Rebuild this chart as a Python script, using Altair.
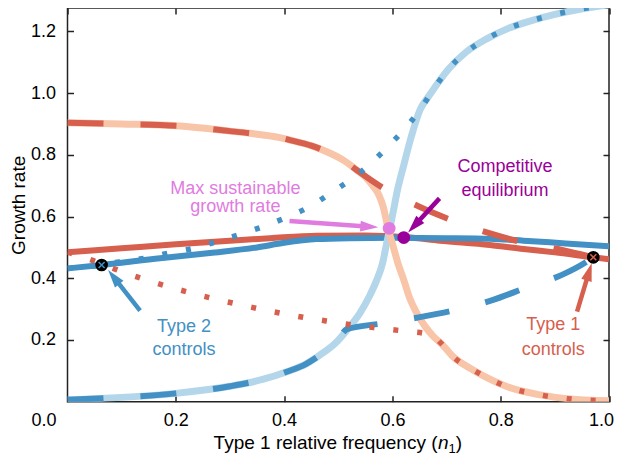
import altair as alt
import numpy as np
import pandas as pd

# ---------------- data ----------------
# light-blue sigmoid (thick, pale)
lb_x = [0, 0.1, 0.2, 0.3, 0.36, 0.405, 0.44, 0.466, 0.495, 0.516, 0.54, 0.557, 0.571, 0.582,
        0.589, 0.595, 0.602, 0.608, 0.62, 0.635, 0.651, 0.665, 0.676, 0.703, 0.736, 0.774,
        0.814, 0.857, 0.902, 0.946, 1.0]
lb_y = [0.006, 0.014, 0.027, 0.05, 0.072, 0.097, 0.122, 0.151, 0.19, 0.232, 0.287, 0.34, 0.394,
        0.45, 0.51, 0.56, 0.62, 0.675, 0.76, 0.86, 0.946, 0.985, 1.013, 1.077, 1.133, 1.176,
        1.21, 1.235, 1.256, 1.272, 1.287]

# peach decreasing sigmoid (thick, pale)
pc_x = [0, 0.1, 0.2, 0.3, 0.337, 0.392, 0.411, 0.45, 0.479, 0.51, 0.534, 0.552, 0.565, 0.575,
        0.583, 0.592, 0.602, 0.61, 0.62, 0.632, 0.645, 0.66, 0.676, 0.69, 0.712, 0.749, 0.78,
        0.811, 0.873, 0.934, 1.0]
pc_y = [0.904, 0.9, 0.894, 0.877, 0.87, 0.856, 0.848, 0.83, 0.81, 0.782, 0.751, 0.725, 0.697,
        0.67, 0.632, 0.562, 0.50, 0.45, 0.40, 0.335, 0.287, 0.245, 0.211, 0.189, 0.146, 0.103,
        0.073, 0.049, 0.022, 0.008, 0.003]

# dark blue dashed: follows light blue, then heads to the type 1 control point
bdash_x = [0, 0.1, 0.2, 0.3, 0.36, 0.405, 0.44, 0.466, 0.495, 0.516, 0.583, 0.651, 0.716,
           0.786, 0.849, 0.913, 0.959, 0.971]
bdash_y = [0.006, 0.014, 0.027, 0.05, 0.072, 0.097, 0.122, 0.151, 0.19, 0.235, 0.254, 0.274,
           0.297, 0.33, 0.371, 0.411, 0.454, 0.468]

# dark red dashed: follows peach, then heads to the type 1 control point
rdash_x = [0, 0.1, 0.2, 0.3, 0.337, 0.392, 0.411, 0.45, 0.479, 0.51, 0.534, 0.589, 0.651,
           0.71, 0.779, 0.842, 0.913, 0.971]
rdash_y = [0.904, 0.9, 0.894, 0.877, 0.87, 0.856, 0.848, 0.83, 0.81, 0.782, 0.751, 0.686,
           0.631, 0.588, 0.546, 0.516, 0.492, 0.468]

# dark blue dotted: from the type 2 control point up onto the light-blue curve
bdot_x = [0, 0.063, 0.097, 0.143, 0.186, 0.233, 0.276, 0.319, 0.362, 0.405, 0.447, 0.485,
          0.522, 0.559, 0.591, 0.622, 0.651, 0.676, 0.703, 0.736, 0.774, 0.814, 0.857, 0.902,
          0.946, 1.0]
bdot_y = [0.432, 0.443, 0.454, 0.465, 0.481, 0.497, 0.519, 0.543, 0.568, 0.598, 0.632, 0.675,
          0.719, 0.770, 0.826, 0.883, 0.946, 1.013, 1.077, 1.133, 1.176, 1.21, 1.235, 1.256,
          1.272, 1.287]

# dark red dotted: from the left down onto the peach curve
rdot_x = [0, 0.048, 0.092, 0.136, 0.18, 0.223, 0.267, 0.312, 0.356, 0.402, 0.447, 0.492,
          0.537, 0.582, 0.626, 0.66, 0.676, 0.69, 0.712, 0.749, 0.78, 0.811, 0.873, 0.934, 1.0]
rdot_y = [0.485, 0.457, 0.427, 0.40, 0.376, 0.355, 0.335, 0.317, 0.30, 0.284, 0.27, 0.258,
          0.246, 0.237, 0.228, 0.221, 0.211, 0.189, 0.146, 0.103, 0.073, 0.049, 0.022, 0.008,
          0.003]

# solid red and solid blue
sr_x = [0, 0.1, 0.2, 0.3, 0.374, 0.46, 0.55, 0.626, 0.688, 0.78, 0.842, 0.9, 0.971, 1.0]
sr_y = [0.484, 0.497, 0.51, 0.522, 0.53, 0.538, 0.539, 0.533, 0.522, 0.508, 0.495, 0.484,
        0.468, 0.462]
sb_x = [0, 0.063, 0.171, 0.263, 0.35, 0.4, 0.46, 0.52, 0.6, 0.7, 0.78, 0.842, 0.92, 1.0]
sb_y = [0.432, 0.443, 0.465, 0.482, 0.5, 0.515, 0.527, 0.53, 0.531, 0.53, 0.528, 0.522,
        0.513, 0.504]

# special points
ctrl_x = [0.063, 0.971]
ctrl_y = [0.443, 0.468]
ctrl_mark = ["blue", "red"]
max_pt = (0.594, 0.562)
eq_pt = (0.621, 0.532)

# arrows: start -> tip
arrow_name = ["pink", "purple", "blue", "red"]
arrow_sx = [0.41, 0.687, 0.134, 0.941]
arrow_sy = [0.586, 0.659, 0.295, 0.292]
arrow_tx = [0.574, 0.629, 0.075, 0.968]
arrow_ty = [0.565, 0.548, 0.427, 0.449]

# annotation text (baseline positions)
ann_text = ["Max sustainable", "growth rate", "Competitive", "equilibrium",
            "Type 2", "controls", "Type 1", "controls"]
ann_x = [0.31, 0.31, 0.808, 0.808, 0.215, 0.215, 0.897, 0.897]
ann_y = [0.672, 0.616, 0.743, 0.666, 0.226, 0.152, 0.233, 0.152]
ann_col = ["pink", "pink", "purple", "purple", "blue", "blue", "red", "red"]

x_ticks = [0.0, 0.2, 0.4, 0.6, 0.8, 1.0]
y_ticks = [0.2, 0.4, 0.6, 0.8, 1.0, 1.2]

# ---------------- styling ----------------
LIGHT_BLUE = "#b3d6ea"
PEACH = "#f9c5a9"
RED = "#d65f4d"
BLUE = "#4290c4"
PINK = "#e07ce0"
PURPLE = "#990099"
COL = {"pink": PINK, "purple": PURPLE, "blue": BLUE, "red": RED}
FONT = "Liberation Sans"

W = 541.5
H = 393.7
YMAX = 1.276
PX = W / 1.0
PY = H / YMAX

xs = alt.Scale(domain=[0, 1], nice=False, zero=False)
ys = alt.Scale(domain=[0, YMAX], nice=False, zero=False)
X = lambda: alt.X("x:Q", scale=xs, axis=None)
Y = lambda: alt.Y("y:Q", scale=ys, axis=None)


def line(xv, yv, color, width, dash=None):
    df = pd.DataFrame({"x": xv, "y": yv, "i": range(len(xv))})
    kw = dict(color=color, strokeWidth=width, clip=True, interpolate="monotone",
              strokeCap="butt", strokeJoin="round")
    if dash:
        kw["strokeDash"] = dash
    return alt.Chart(df).mark_line(**kw).encode(x=X(), y=Y(), order=alt.Order("i:Q"))


# axes layers (bottom/left with labels, top/right ticks only)
axis_df = pd.DataFrame({"x": [0, 1], "y": [0, YMAX]})
common = dict(offset=-6, tickSize=6, domain=False, grid=False, tickColor="#222",
              tickWidth=1.5)
ax_main = alt.Chart(axis_df).mark_point(opacity=0).encode(
    x=alt.X("x:Q", scale=xs, axis=alt.Axis(
        orient="bottom", values=x_ticks, format=".1f", title=None, labelPadding=10,
        labelFontSize=18, labelFont=FONT, labelColor="#000", labelFlush=False,
        labelOffset={"condition": [{"test": "datum.value == 0", "value": -24},
                                   {"test": "datum.value == 1", "value": -8}],
                     "value": 0},
        **common)),
    y=alt.Y("y:Q", scale=ys, axis=alt.Axis(
        orient="left", values=y_ticks, format=".1f", title="Growth rate", labelPadding=12,
        labelFontSize=18, labelFont=FONT, labelColor="#000", labelFlush=False,
        titleFont=FONT, titleFontSize=19, titleFontWeight="normal", titleColor="#000",
        titlePadding=2, **common)),
)
ax_other = alt.Chart(axis_df).mark_point(opacity=0).encode(
    x=alt.X("x:Q", scale=xs, axis=alt.Axis(orient="top", values=x_ticks, labels=False,
                                           title=None, **common)),
    y=alt.Y("y:Q", scale=ys, axis=alt.Axis(orient="right", values=y_ticks, labels=False,
                                           title=None, **common)),
)

layers = [ax_main, ax_other,
          line(sr_x, sr_y, RED, 6),
          line(sb_x, sb_y, BLUE, 6),
          line(lb_x, lb_y, LIGHT_BLUE, 7),
          line(pc_x, pc_y, PEACH, 7),
          line(rdash_x, rdash_y, RED, 6, [36, 37]),
          line(bdash_x, bdash_y, BLUE, 6, [36, 37]),
          line(rdot_x, rdot_y, RED, 5.5, [5, 19]),
          line(bdot_x, bdot_y, BLUE, 5.5, [5, 19])]

# arrows
HEAD = 18
rows_s, rows_h = [], []
for n, sx, sy, tx, ty in zip(arrow_name, arrow_sx, arrow_sy, arrow_tx, arrow_ty):
    dxp, dyp = (tx - sx) * PX, (ty - sy) * PY
    L = np.hypot(dxp, dyp)
    ux, uy = dxp / L, dyp / L
    rows_s.append({"x": sx, "y": sy, "x2": tx - ux * 12 / PX, "y2": ty - uy * 12 / PY, "c": n})
    rows_h.append({"x": tx - ux * (HEAD / 2) / PX, "y": ty - uy * (HEAD / 2) / PY,
                   "a": float(np.degrees(np.arctan2(ux, uy)) % 360), "c": n})
shaft_df = pd.DataFrame(rows_s)
head_df = pd.DataFrame(rows_h)
cscale = alt.Scale(domain=list(COL.keys()), range=list(COL.values()))

layers.append(alt.Chart(shaft_df).mark_rule(strokeWidth=4.5, strokeCap="butt").encode(
    x=X(), y=Y(), x2="x2:Q", y2="y2:Q", color=alt.Color("c:N", scale=cscale, legend=None)))
layers.append(alt.Chart(head_df).mark_point(
    shape="M0,-1L0.6,1L-0.6,1Z", filled=True, size=HEAD * HEAD, opacity=1).encode(
    x=X(), y=Y(), angle=alt.Angle("a:Q", scale=None),
    color=alt.Color("c:N", scale=cscale, legend=None)))

# points
ctrl_df = pd.DataFrame({"x": ctrl_x, "y": ctrl_y, "c": ctrl_mark})
layers.append(alt.Chart(ctrl_df).mark_point(filled=True, shape="circle", size=160,
                                            color="#000", opacity=1).encode(x=X(), y=Y()))
layers.append(alt.Chart(ctrl_df).mark_point(shape="M-1,-1L1,1M-1,1L1,-1", filled=False,
                                            size=36, strokeWidth=1.6, opacity=1).encode(
    x=X(), y=Y(), color=alt.Color("c:N", scale=cscale, legend=None)))
pts_df = pd.DataFrame({"x": [max_pt[0], eq_pt[0]], "y": [max_pt[1], eq_pt[1]],
                       "c": ["pink", "purple"]})
layers.append(alt.Chart(pts_df).mark_point(filled=True, shape="circle", size=165,
                                           opacity=1).encode(
    x=X(), y=Y(), color=alt.Color("c:N", scale=cscale, legend=None)))

# annotation text
ann_df = pd.DataFrame({"x": ann_x, "y": ann_y, "t": ann_text, "c": ann_col})
layers.append(alt.Chart(ann_df).mark_text(font=FONT, fontSize=18, align="center",
                                          baseline="alphabetic").encode(
    x=X(), y=Y(), text="t:N", color=alt.Color("c:N", scale=cscale, legend=None)))

# x-axis title with italic n and subscript 1
TB = 440.5
title_parts = [
    ("Type 1 relative frequency (", 0.6833, TB, 19, "normal", "right"),
    ("n", 0.6843, TB, 19, "italic", "left"),
    ("1", 0.7037, TB + 4, 13, "normal", "left"),
    (")", 0.7171, TB, 19, "normal", "left"),
]
for txt, xv, yv, fs, style, al in title_parts:
    layers.append(alt.Chart(pd.DataFrame({"x": [xv], "t": [txt]})).mark_text(
        font=FONT, fontSize=fs, fontStyle=style, align=al, baseline="alphabetic",
        color="#000").encode(x=X(), y=alt.value(yv), text="t:N"))

chart = alt.layer(*layers).resolve_axis(x="independent", y="independent").properties(
    width=W, height=H,
    autosize=alt.AutoSizeParams(type="none"),
    padding={"left": 59.5, "top": 0, "right": 6, "bottom": 53.3},
).configure_view(stroke="#222", strokeWidth=1.5)

chart.save("out.html", embed_options={"renderer": "svg", "actions": False})
